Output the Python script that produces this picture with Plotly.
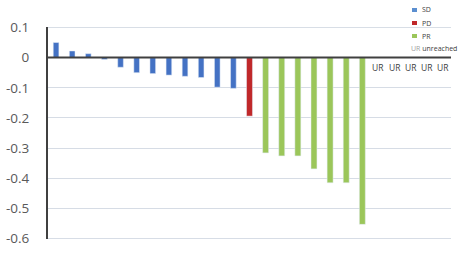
import plotly.graph_objects as go

categories = list(range(25))
sd_values = [0.050, 0.022, 0.013, -0.006, -0.032, -0.050, -0.053, -0.058, -0.062, -0.066, -0.098, -0.102]
pd_values = [-0.194]
pr_values = [-0.316, -0.326, -0.326, -0.369, -0.415, -0.415, -0.553]
ur_labels = ["UR", "UR", "UR", "UR", "UR"]
y_ticks = [0.1, 0, -0.1, -0.2, -0.3, -0.4, -0.5, -0.6]
y_ticktext = ["0.1", "0", "-0.1", "-0.2", "-0.3", "-0.4", "-0.5", "-0.6"]
legend_names = ["SD", "PD", "PR"]

c_sd = "#4472C4"
c_pd = "#C0282A"
c_pr = "#9BC65A"
leg_colors = ["#5B8FD0", "#C0282A", "#9BC65A"]
grid_color = "#D6DCE5"

n_sd, n_pd, n_pr = len(sd_values), len(pd_values), len(pr_values)
x_sd = categories[:n_sd]
x_pd = categories[n_sd:n_sd + n_pd]
x_pr = categories[n_sd + n_pd:n_sd + n_pd + n_pr]
x_ur = categories[n_sd + n_pd + n_pr:]

fig = go.Figure()
bw = 0.35
fig.add_trace(go.Bar(x=x_sd, y=sd_values, marker_color=c_sd, width=bw, name="SD", showlegend=False))
fig.add_trace(go.Bar(x=x_pd, y=pd_values, marker_color=c_pd, width=0.37, name="PD", showlegend=False))
fig.add_trace(go.Bar(x=x_pr, y=pr_values, marker_color=c_pr, width=0.37, name="PR", showlegend=False))

font_fam = "Open Sans, Liberation Sans, sans-serif"

annotations = []
for xi, lab in zip(x_ur, ur_labels):
    annotations.append(dict(x=xi, y=0, xref="x", yref="y", text=lab, showarrow=False,
                            yshift=-10, font=dict(size=8.5, color="#404040", family=font_fam)))

H = 212.0
W = 403.0
shapes = []
# edge gridlines (top and bottom ticks)
for gv in (max(y_ticks), min(y_ticks)):
    shapes.append(dict(type="line", xref="paper", yref="y", x0=0, x1=1, y0=gv, y1=gv,
                       line=dict(color=grid_color, width=1), layer="below"))

leg_y = [10, 23, 36]
for name, col, yy in zip(legend_names, leg_colors, leg_y):
    shapes.append(dict(type="rect", xref="paper", yref="paper",
                       x0=(412 - 48) / W, x1=(417 - 48) / W,
                       y0=1 + (27 - yy - 2) / H, y1=1 + (27 - yy + 2) / H,
                       fillcolor=col, line=dict(width=0), layer="above"))
    annotations.append(dict(xref="paper", yref="paper", x=(420 - 48) / W, y=1 + (27 - yy) / H,
                            xanchor="left", yanchor="middle", text=name, showarrow=False,
                            font=dict(size=7, color="#404040", family=font_fam)))
annotations.append(dict(xref="paper", yref="paper", x=(409 - 48) / W, y=1 + (27 - 48) / H,
                        xanchor="left", yanchor="middle", showarrow=False,
                        text="<span style='color:#A0A0A0'>UR</span> unreached",
                        font=dict(size=7, color="#404040", family=font_fam)))

# zero line
shapes.append(dict(type="line", xref="paper", yref="y", x0=0, x1=1, y0=0, y1=0,
                   line=dict(color="#404040", width=2), layer="above"))

fig.update_layout(
    width=468, height=255,
    margin=dict(l=48, r=17, t=27, b=16, autoexpand=False),
    paper_bgcolor="white", plot_bgcolor="white",
    xaxis=dict(range=[-0.5, 24.5], showticklabels=False, showgrid=False, zeroline=False,
               showline=False, ticks="", automargin=False),
    yaxis=dict(range=[-0.6015, 0.1015], tickvals=y_ticks, ticktext=y_ticktext,
               showgrid=True, gridcolor=grid_color, gridwidth=1, zeroline=False,
               showline=True, linecolor="#404040", linewidth=2, ticks="",
               ticklabelstandoff=14, automargin=False,
               tickfont=dict(size=13.5, color="#595959", family=font_fam)),
    annotations=annotations, shapes=shapes,
    font=dict(family=font_fam),
)

fig.write_html("out.html")
